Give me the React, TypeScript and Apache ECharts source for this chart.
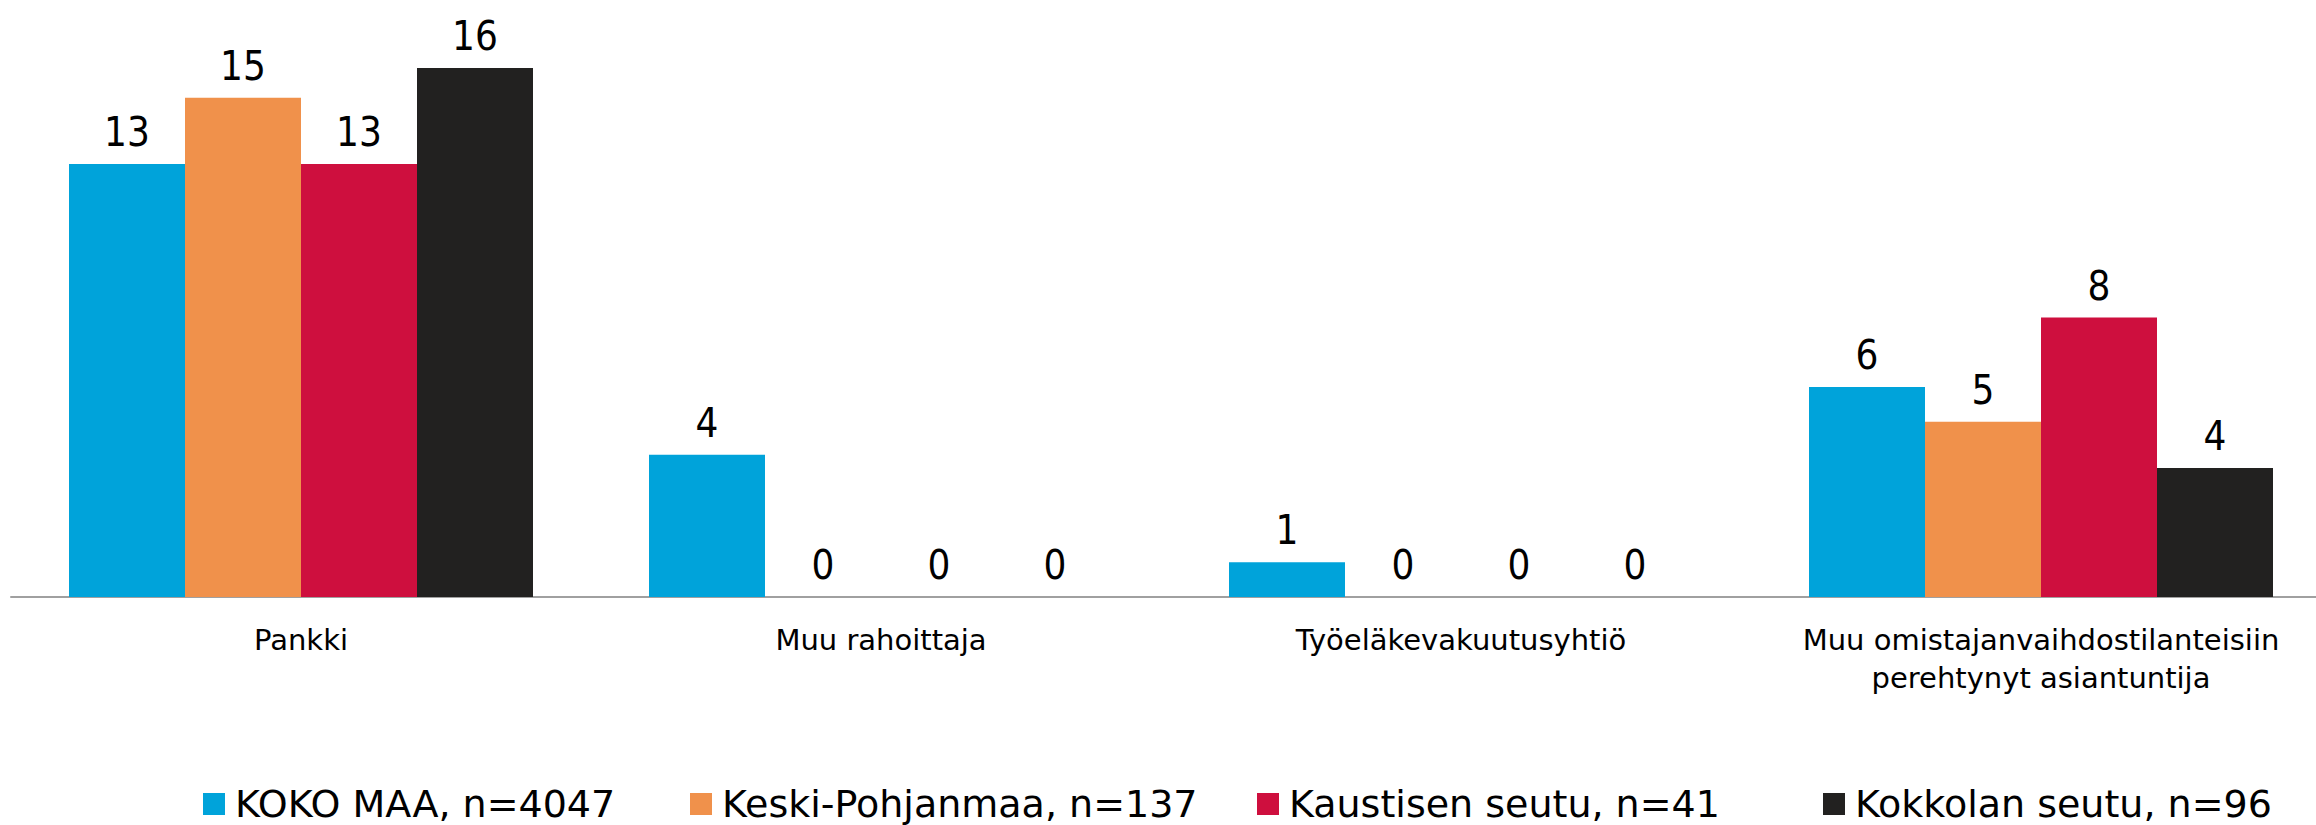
import React, { useEffect, useRef } from "react";
import * as echarts from "echarts";

const categories = [
  "Pankki",
  "Muu rahoittaja",
  "Työeläkevakuutusyhtiö",
  "Muu omistajanvaihdostilanteisiin\nperehtynyt asiantuntija",
];
const seriesNames = [
  "KOKO MAA, n=4047",
  "Keski-Pohjanmaa, n=137",
  "Kaustisen seutu, n=41",
  "Kokkolan seutu, n=96",
];
const kokoMaa = [13.1, 4.3, 1.05, 6.35];
const keskiPohjanmaa = [15.1, 0, 0, 5.3];
const kaustisenSeutu = [13.1, 0, 0, 8.45];
const kokkolanSeutu = [16.0, 0, 0, 3.9];
const colors = ["#00A3DA", "#F0914B", "#CE0F3E", "#222120"];
const legendLeft = [198, 685, 1252, 1818];

const FONT_C = "'DejaVu Sans Condensed', 'DejaVu Sans', sans-serif";
const FONT = "'DejaVu Sans', sans-serif";

export default function App() {
  const ref = useRef<HTMLDivElement>(null);
  useEffect(() => {
    if (!ref.current) return;
    const chart = echarts.init(ref.current, null, { renderer: "svg" });
    const values = [kokoMaa, keskiPohjanmaa, kaustisenSeutu, kokkolanSeutu];
    chart.setOption({
      animation: false,
      backgroundColor: "#ffffff",
      grid: { left: 11, top: 68, width: 2320, height: 529, containLabel: false },
      legend: seriesNames.map((n, i) => ({
        data: [n],
        left: legendLeft[i],
        top: 780,
        icon: "rect",
        itemWidth: 22,
        itemHeight: 22,
        itemGap: 0,
        textStyle: {
          fontFamily: FONT,
          fontSize: 38,
          color: "#000",
          padding: [0, 0, 0, 5],
        },
      })),
      xAxis: {
        type: "category",
        data: categories,
        axisLine: { show: true, lineStyle: { color: "#A0A0A0", width: 2 } },
        axisTick: { show: false },
        axisLabel: {
          fontFamily: FONT,
          fontSize: 29,
          color: "#000",
          margin: 24,
          lineHeight: 38,
          interval: 0,
        },
      },
      yAxis: {
        type: "value",
        min: 0,
        max: 16,
        show: false,
        splitLine: { show: false },
      },
      series: seriesNames.map((n, i) => ({
        name: n,
        type: "bar",
        data: values[i],
        barGap: "0%",
        barCategoryGap: "20%",
        itemStyle: { color: colors[i] },
        label: {
          show: true,
          position: "top",
          distance: 12,
          fontFamily: FONT_C,
          fontSize: 40,
          color: "#000",
          formatter: (p: any) => String(Math.round(p.value)),
        },
      })),
    });
    return () => chart.dispose();
  }, []);
  return (
    <div
      style={{
        position: "absolute",
        left: 0,
        top: 0,
        width: 2316,
        height: 825,
        overflow: "hidden",
        background: "#fff",
      }}
    >
      <div ref={ref} style={{ width: 2340, height: 825 }} />
    </div>
  );
}
